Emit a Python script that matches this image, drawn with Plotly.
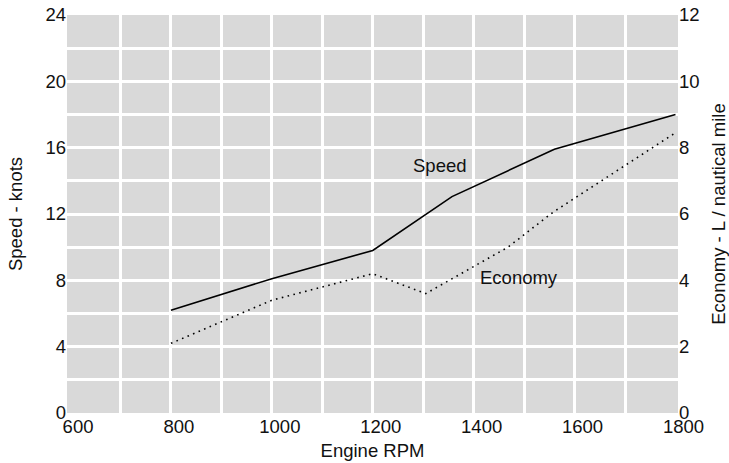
import plotly.graph_objects as go

speed_rpm = [800, 1000, 1200, 1357, 1560, 1800]
speed_knots = [6.2, 8.1, 9.8, 13.05, 15.9, 18.0]

econ_rpm = [800, 1000, 1200, 1305, 1468, 1557, 1800]
econ_lpnm = [2.1, 3.4, 4.2, 3.6, 5.0, 6.05, 8.45]

x_ticks = [600, 800, 1000, 1200, 1400, 1600, 1800]
x_grid = [700, 800, 900, 1000, 1100, 1200, 1300, 1400, 1500, 1600, 1700]
y_ticks = [0, 4, 8, 12, 16, 20, 24]
y_grid = [2, 4, 6, 8, 10, 12, 14, 16, 18, 20, 22]
y2_ticks = [0, 2, 4, 6, 8, 10, 12]

FONT = "Liberation Sans, Arial, sans-serif"
TXT = "#111111"
FS = 18.5

fig = go.Figure()
fig.add_trace(go.Scatter(x=speed_rpm, y=speed_knots, mode="lines",
                         line=dict(color="black", width=1.6), showlegend=False))
fig.add_trace(go.Scatter(x=econ_rpm, y=econ_lpnm, mode="lines", yaxis="y2",
                         line=dict(color="black", width=1.6, dash="1.6px,4.4px"),
                         showlegend=False, cliponaxis=False))

fig.add_annotation(x=1334, y=14.9, text="Speed", showarrow=False,
                   font=dict(size=FS, color=TXT, family=FONT))
fig.add_annotation(x=1489, y=8.17, text="Economy", showarrow=False,
                   font=dict(size=FS, color=TXT, family=FONT))

fig.update_layout(
    width=729, height=463,
    margin=dict(l=67, r=51, t=15, b=50, autoexpand=False),
    paper_bgcolor="white", plot_bgcolor="#d9d9d9",
    font=dict(family=FONT, size=FS, color=TXT),
    xaxis=dict(range=[594, 1805], tickvals=x_ticks, showgrid=False,
               zeroline=False, showline=False, ticks="", automargin=False,
               ticklabelshift=8,
               minor=dict(tickvals=x_grid, showgrid=True, gridcolor="white", gridwidth=2.6),
               title=dict(text="Engine RPM", standoff=8,
                          font=dict(size=FS, color=TXT, family=FONT))),
    yaxis=dict(range=[0, 24], tickvals=y_ticks, showgrid=False,
               zeroline=False, showline=False, ticks="", automargin=False,
               minor=dict(tickvals=y_grid, showgrid=True, gridcolor="white", gridwidth=2.6),
               title=dict(text="Speed - knots", standoff=17,
                          font=dict(size=FS, color=TXT, family=FONT))),
    yaxis2=dict(range=[0, 12], tickvals=y2_ticks, overlaying="y", side="right",
                showgrid=False, zeroline=False, showline=False, ticks="",
                automargin=False,
                title=dict(text="Economy - L / nautical mile", standoff=13,
                           font=dict(size=FS, color=TXT, family=FONT))),
)

fig.write_html("out.html", config={"displayModeBar": False},
               post_script="document.body.style.margin='0';document.body.style.padding='0';")
